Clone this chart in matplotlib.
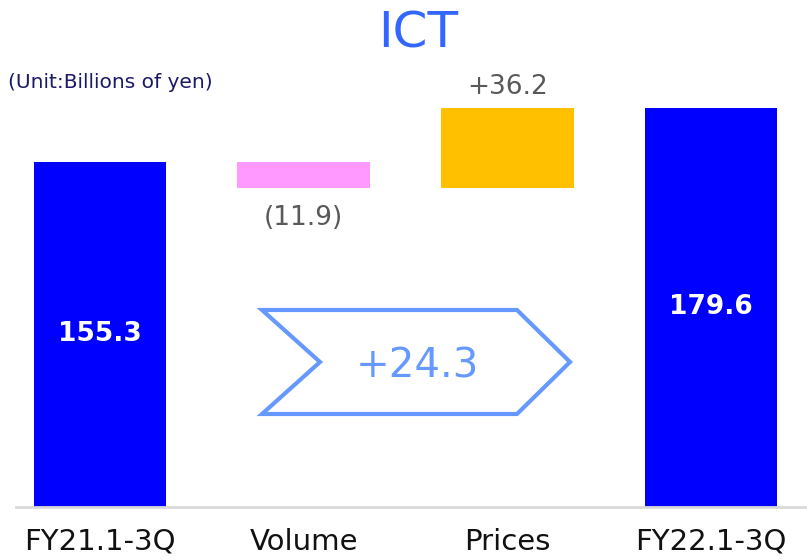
import matplotlib
matplotlib.use("Agg")
import matplotlib.pyplot as plt
from matplotlib.patches import Polygon

# values (billions of yen)
categories = ["FY21.1-3Q", "Volume", "Prices", "FY22.1-3Q"]
start_value = 155.3
changes = [-11.9, 36.2]
end_value = 179.6
total_change = 24.3

bar_colors = ["#0000ff", "#ff99ff", "#ffc000", "#0000ff"]

# build waterfall bottoms/heights
bottoms = [0]
heights = [start_value]
level = start_value
for c in changes:
    if c < 0:
        bottoms.append(level + c)
        heights.append(-c)
    else:
        bottoms.append(level)
        heights.append(c)
    level += c
bottoms.append(0)
heights.append(end_value)

fig = plt.figure(figsize=(8.07, 5.6), dpi=100)
ax = fig.add_axes([16 / 807, 53 / 560, 791 / 807, 507 / 560])

x = list(range(len(categories)))
ax.bar(x, heights, bottom=bottoms, width=0.65, color=bar_colors, zorder=2)

ax.set_xlim(-0.412, 3.47)
ax.set_ylim(0, 507 / 2.222)

for s in ["top", "right", "left"]:
    ax.spines[s].set_visible(False)
ax.spines["bottom"].set_color("#d9d9d9")
ax.spines["bottom"].set_linewidth(2)
ax.set_yticks([])
ax.set_xticks(x)
ax.set_xticklabels(categories, fontsize=21, color="#111111")
ax.tick_params(axis="x", length=0, pad=15)

# total labels inside bars
ax.text(0, start_value / 2, f"{start_value:.1f}", ha="center", va="center",
        color="white", fontsize=19, fontweight="bold")
ax.text(3, end_value / 2, f"{end_value:.1f}", ha="center", va="center",
        color="white", fontsize=19, fontweight="bold")

# change labels
ax.text(1, bottoms[1] - 13.5, f"({abs(changes[0]):.1f})", ha="center", va="center",
        color="#595959", fontsize=19)
ax.text(2, bottoms[2] + heights[2] + 9.5, f"+{changes[1]:.1f}", ha="center",
        va="center", color="#595959", fontsize=19)

# chevron with net change
pts = [(262, 310), (517, 310), (570, 362), (517, 414), (262, 414), (320, 362)]
pts = [(px / 807, 1 - py / 560) for px, py in pts]
chev = Polygon(pts, closed=True, fill=False, edgecolor="#6699ff", linewidth=3,
               joinstyle="miter", transform=fig.transFigure, zorder=3)
fig.patches.append(chev)
fig.text(417 / 807, 1 - 366 / 560, f"+{total_change:.1f}", ha="center",
         va="center", color="#6699ff", fontsize=29)

fig.text(418 / 807, 1 - 34 / 560, "ICT", ha="center", va="center",
         color="#3366ff", fontsize=36)
fig.text(8 / 807, 1 - 82 / 560, "(Unit:Billions of yen)", ha="left",
         va="center", color="#1a1a66", fontsize=14.5)

fig.savefig("out.png", dpi=100)
